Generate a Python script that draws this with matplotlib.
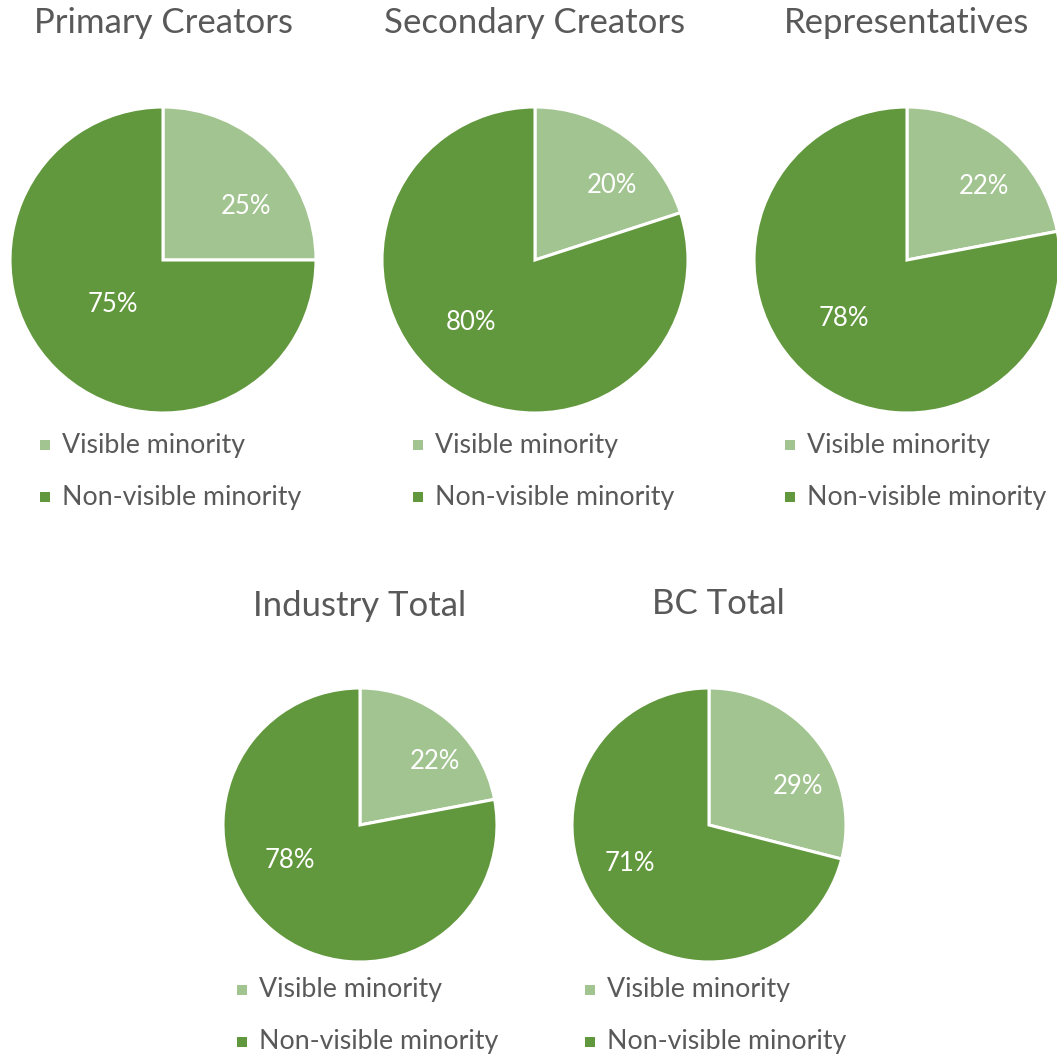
import matplotlib
matplotlib.use("Agg")
import matplotlib.pyplot as plt
from matplotlib.patches import Rectangle

# Share of visible minority vs. non-visible minority per group
groups = ["Primary Creators", "Secondary Creators", "Representatives",
          "Industry Total", "BC Total"]
visible = [25, 20, 22, 22, 29]
non_visible = [75, 80, 78, 78, 71]
categories = ["Visible minority", "Non-visible minority"]

LIGHT = "#A2C490"
DARK = "#62983D"
TITLE_C = "#595959"
TEXT_C = "#595959"

W, H = 1057, 1059
fig = plt.figure(figsize=(W / 100, H / 100), dpi=100)
plt.rcParams["font.family"] = ["Lato", "DejaVu Sans"]

# pie centre (px), radius (px), title centre x, title y, legend x, legend y rows
layout = [
    dict(c=(163, 260), r=153, tx=163, ty=23, lx=45, ly=(445, 497)),
    dict(c=(535, 260), r=153, tx=535, ty=23, lx=418, ly=(445, 497)),
    dict(c=(907, 260), r=153, tx=907, ty=23, lx=790, ly=(445, 497)),
    dict(c=(360, 825), r=137, tx=360, ty=606, lx=242, ly=(990, 1042)),
    dict(c=(709, 825), r=137, tx=718, ty=604, lx=590, ly=(990, 1042)),
]
# label offsets in radius units (small slice, large slice)
label_pos = [
    ((0.54, 0.35), (-0.33, -0.29)),
    ((0.50, 0.49), (-0.42, -0.41)),
    ((0.50, 0.48), (-0.41, -0.38)),
    ((0.55, 0.46), (-0.51, -0.26)),
    ((0.65, 0.28), (-0.58, -0.28)),
]


def fx(x):
    return x / W


def fy(y):
    return 1 - y / H


for i, name in enumerate(groups):
    L = layout[i]
    cx, cy = L["c"]
    r = L["r"]
    ax = fig.add_axes([fx(cx - r), fy(cy + r), 2 * r / W, 2 * r / H])
    vals = [visible[i], non_visible[i]]
    ax.pie(vals, colors=[LIGHT, DARK], startangle=90, counterclock=False,
           radius=1, wedgeprops=dict(edgecolor="white", linewidth=2.2))
    ax.set_xlim(-1, 1)
    ax.set_ylim(-1, 1)
    ax.set_aspect("auto")
    ax.axis("off")
    for v, (dx, dy) in zip(vals, label_pos[i]):
        ax.text(dx, dy, f"{v}%", color="white", fontsize=18.5,
                ha="center", va="center")

    fig.text(fx(L["tx"]), fy(L["ty"]), name, fontsize=25, color=TITLE_C,
             ha="center", va="center")
    for cat, col, ly in zip(categories, [LIGHT, DARK], L["ly"]):
        fig.patches.append(Rectangle((fx(L["lx"] - 5), fy(ly + 5)),
                                     10 / W, 10 / H, transform=fig.transFigure,
                                     facecolor=col, edgecolor="none"))
        fig.text(fx(L["lx"] + 17), fy(ly), cat, fontsize=19.3, color=TEXT_C,
                 ha="left", va="center")

fig.savefig("out.png", dpi=100, facecolor="white")
